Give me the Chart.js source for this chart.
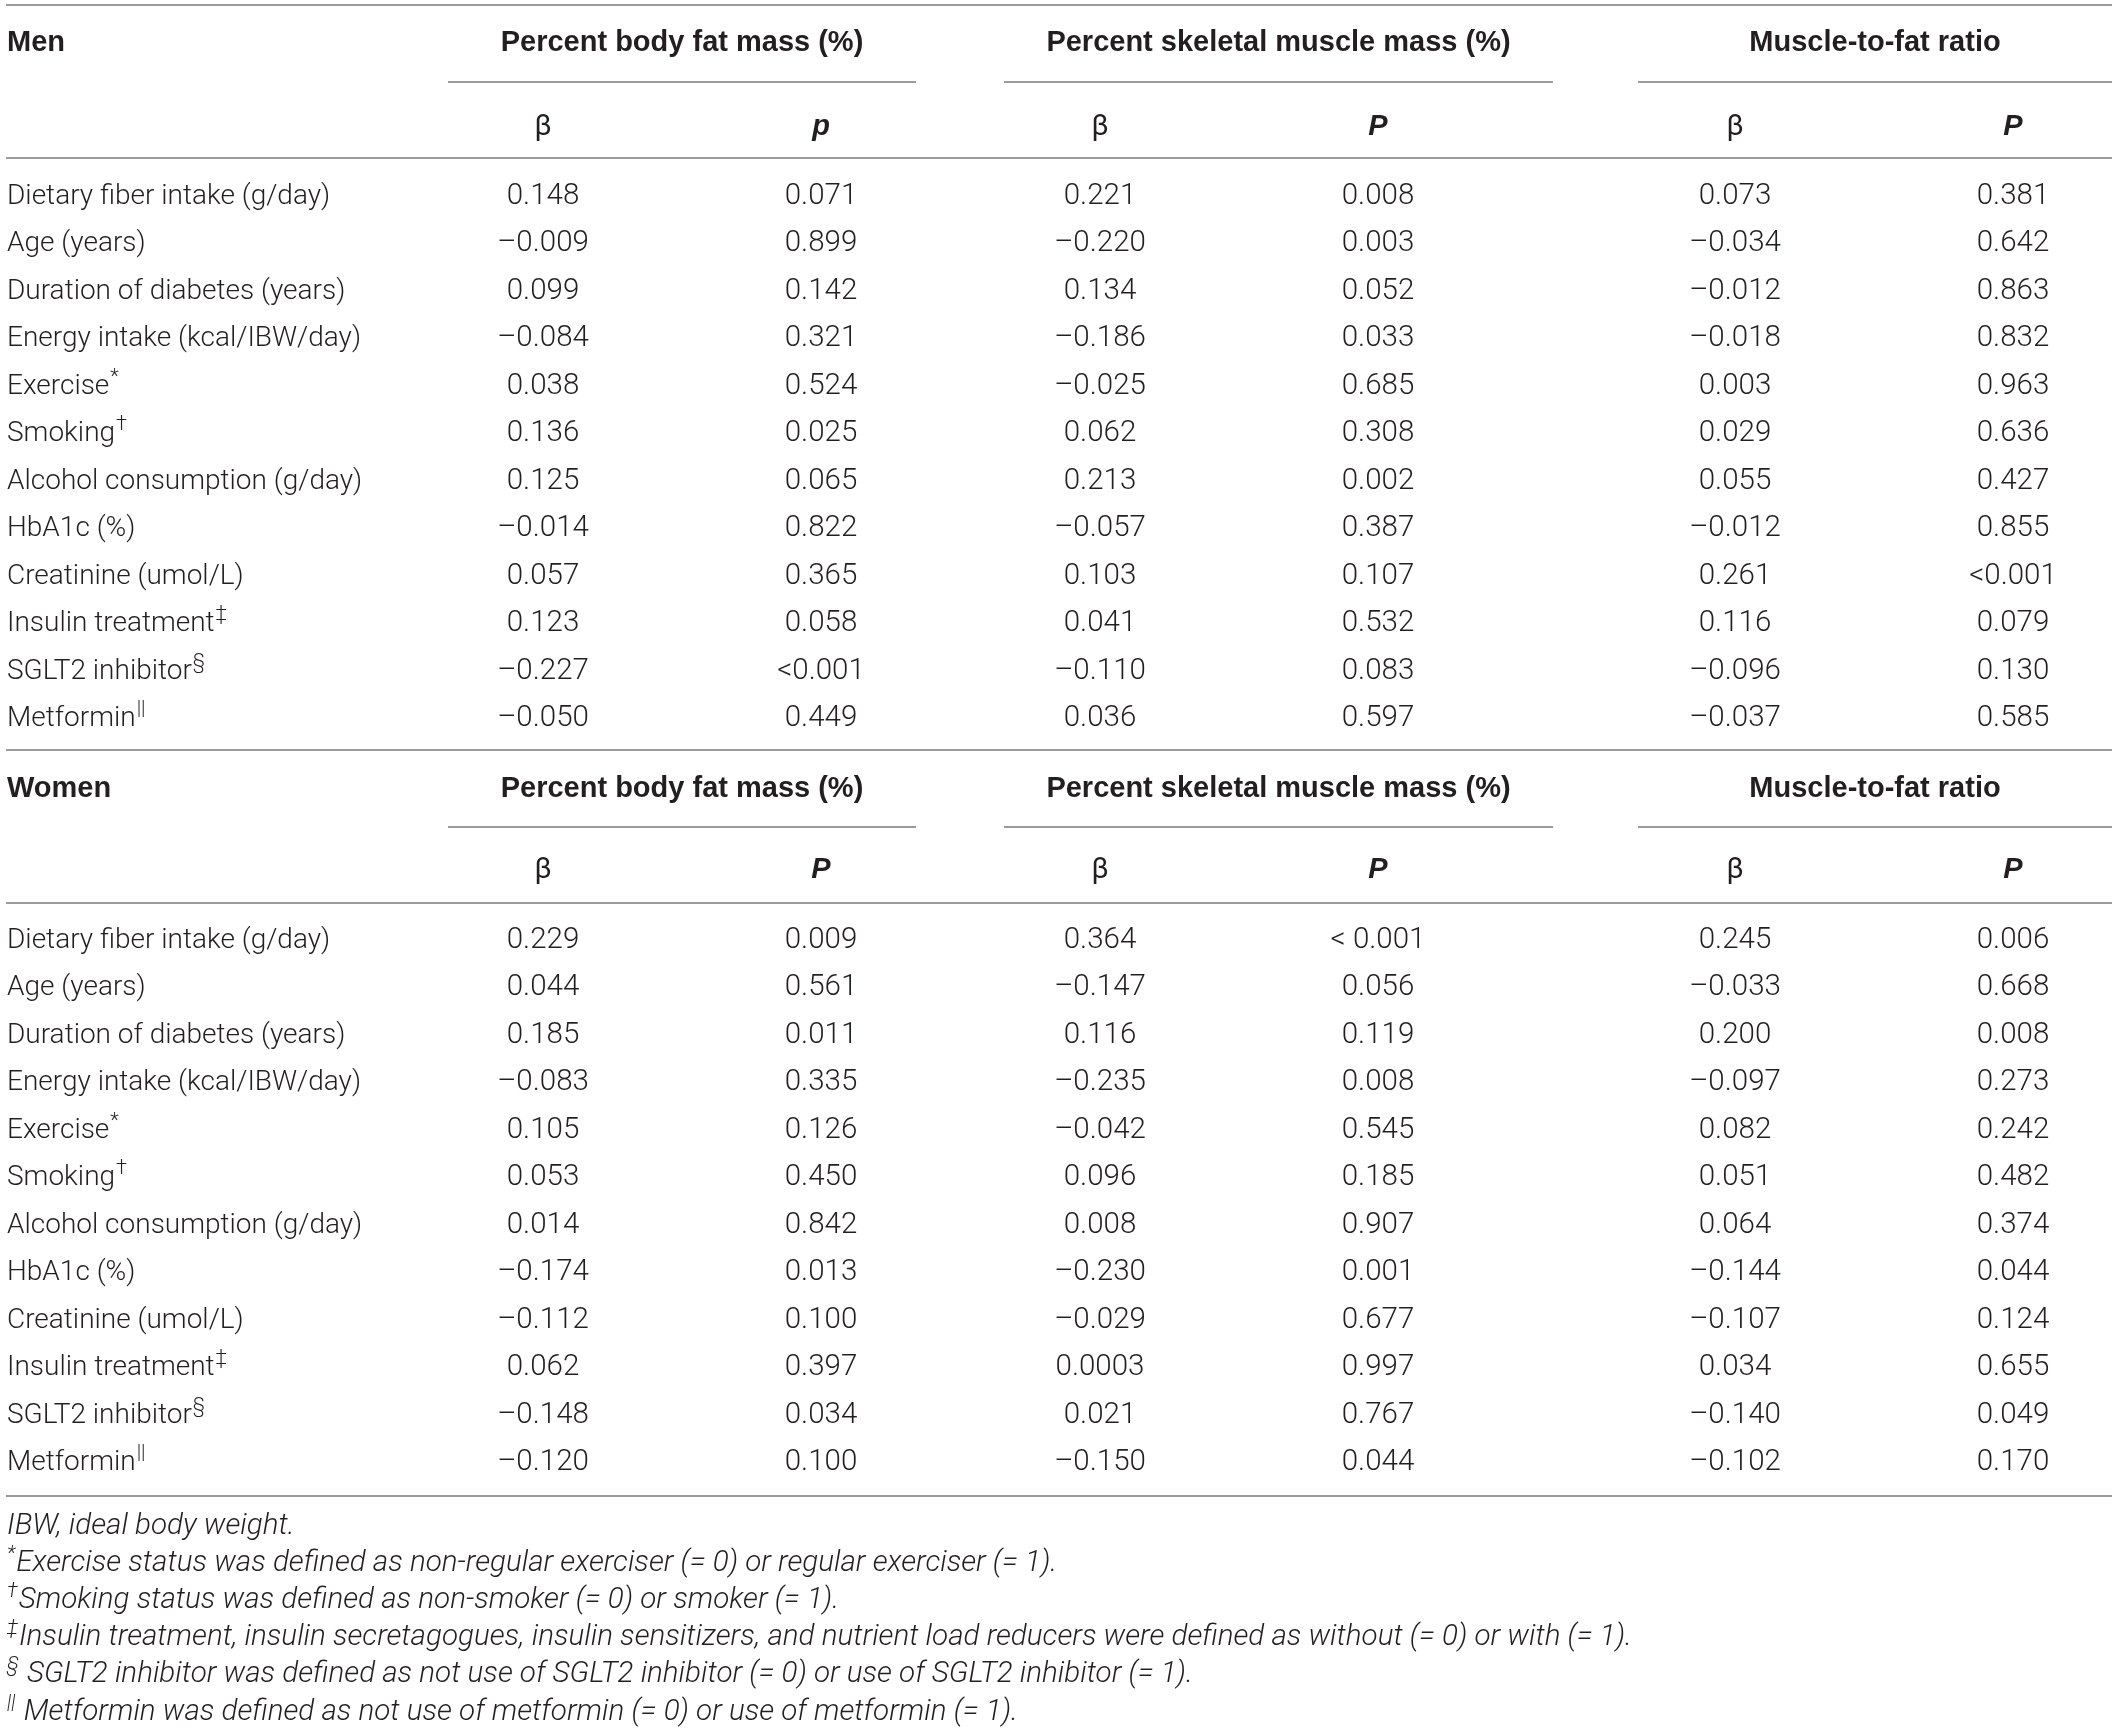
<!DOCTYPE html>
<html><head><meta charset="utf-8">
<script src="https://cdn.jsdelivr.net/npm/chart.js@4/dist/chart.umd.min.js"></script>
<style>html,body{margin:0;padding:0;background:#fff;overflow:hidden}canvas{display:block}</style>
</head><body>
<canvas id="c" width="2118" height="1730" style="width:2118px;height:1730px"></canvas>
<script>
// ---------------- DATA ----------------
const sectionNames = ["Men", "Women"];
const groupHeaders = ["Percent body fat mass (%)", "Percent skeletal muscle mass (%)", "Muscle-to-fat ratio"];
const subHeadersMen = ["β", "p", "β", "P", "β", "P"];
const subHeadersWomen = ["β", "P", "β", "P", "β", "P"];
const rowLabels = [
  "Dietary fiber intake (g/day)", "Age (years)", "Duration of diabetes (years)",
  "Energy intake (kcal/IBW/day)", "Exercise", "Smoking", "Alcohol consumption (g/day)",
  "HbA1c (%)", "Creatinine (umol/L)", "Insulin treatment", "SGLT2 inhibitor", "Metformin"
];
const rowMarks = ["", "", "", "", "*", "†", "", "", "", "‡", "§", "||"];

const menFatBeta   = ["0.148","–0.009","0.099","–0.084","0.038","0.136","0.125","–0.014","0.057","0.123","–0.227","–0.050"];
const menFatP      = ["0.071","0.899","0.142","0.321","0.524","0.025","0.065","0.822","0.365","0.058","<0.001","0.449"];
const menMuscleBeta= ["0.221","–0.220","0.134","–0.186","–0.025","0.062","0.213","–0.057","0.103","0.041","–0.110","0.036"];
const menMuscleP   = ["0.008","0.003","0.052","0.033","0.685","0.308","0.002","0.387","0.107","0.532","0.083","0.597"];
const menRatioBeta = ["0.073","–0.034","–0.012","–0.018","0.003","0.029","0.055","–0.012","0.261","0.116","–0.096","–0.037"];
const menRatioP    = ["0.381","0.642","0.863","0.832","0.963","0.636","0.427","0.855","<0.001","0.079","0.130","0.585"];

const womenFatBeta   = ["0.229","0.044","0.185","–0.083","0.105","0.053","0.014","–0.174","–0.112","0.062","–0.148","–0.120"];
const womenFatP      = ["0.009","0.561","0.011","0.335","0.126","0.450","0.842","0.013","0.100","0.397","0.034","0.100"];
const womenMuscleBeta= ["0.364","–0.147","0.116","–0.235","–0.042","0.096","0.008","–0.230","–0.029","0.0003","0.021","–0.150"];
const womenMuscleP   = ["< 0.001","0.056","0.119","0.008","0.545","0.185","0.907","0.001","0.677","0.997","0.767","0.044"];
const womenRatioBeta = ["0.245","–0.033","0.200","–0.097","0.082","0.051","0.064","–0.144","–0.107","0.034","–0.140","–0.102"];
const womenRatioP    = ["0.006","0.668","0.008","0.273","0.242","0.482","0.374","0.044","0.124","0.655","0.049","0.170"];

const footnoteMarks = ["", "*", "†", "‡", "§", "||"];
const footnotes = [
  "IBW, ideal body weight.",
  "Exercise status was defined as non-regular exerciser (= 0) or regular exerciser (= 1).",
  "Smoking status was defined as non-smoker (= 0) or smoker (= 1).",
  "Insulin treatment, insulin secretagogues, insulin sensitizers, and nutrient load reducers were defined as without (= 0) or with (= 1).",
  " SGLT2 inhibitor was defined as not use of SGLT2 inhibitor (= 0) or use of SGLT2 inhibitor (= 1).",
  " Metformin was defined as not use of metformin (= 0) or use of metformin (= 1)."
];

// ---------------- LAYOUT (scale units) ----------------
const layout = {
  width: 2118, height: 1730,
  labelX: 7,
  colX: [543, 821, 1100, 1378, 1735, 2013],
  groupSpan: [[448, 916], [1004, 1553], [1638, 2112]],
  fullSpan: [6, 2112],
  topLine: 5,
  sections: [
    { title: 41, groupLine: 82, sub: 125, subLine: 158, firstRow: 194, endLine: 750 },
    { title: 787, groupLine: 827, sub: 868, subLine: 903, firstRow: 938, endLine: 1496 }
  ],
  rowStep: 47.45,
  footFirst: 1524, footStep: 37.1
};
const style = {
  text: "#231f20", line: "#9b9b9b", lineWidth: 2,
  body: "300 28px Roboto", num: "300 29.5px Roboto",
  bold: "700 29px 'Liberation Sans'", sub: "italic 700 29px 'Liberation Sans'",
  beta: "400 29px Roboto", foot: "italic 300 29.6px Roboto",
  supBody: "300 20px Roboto", supFoot: "italic 300 20px Roboto", capHalf: 10, supRaise: 11
};

// ---------------- BUILD DATASETS ----------------
const sectionCols = [
  [menFatBeta, menFatP, menMuscleBeta, menMuscleP, menRatioBeta, menRatioP],
  [womenFatBeta, womenFatP, womenMuscleBeta, womenMuscleP, womenRatioBeta, womenRatioP]
];
const rowY = (s, i) => layout.sections[s].firstRow + i * layout.rowStep;
const datasets = [];
{
  const data = [], texts = [], marks = [];
  layout.sections.forEach((sec, s) => rowLabels.forEach((lab, i) => {
    data.push({ x: layout.labelX, y: rowY(s, i) }); texts.push(lab); marks.push(rowMarks[i]);
  }));
  datasets.push({ label: "Variables", data, texts, marks, align: "left", font: style.body, supFont: style.supBody, pointRadius: 0 });
}
for (let c = 0; c < 6; c++) {
  const data = [], texts = [];
  sectionCols.forEach((cols, s) => cols[c].forEach((v, i) => {
    data.push({ x: layout.colX[c], y: rowY(s, i) }); texts.push(v);
  }));
  datasets.push({ label: "col" + c, data, texts, align: "center", font: style.num, pointRadius: 0 });
}
{
  const data = [], texts = [], marks = [];
  footnotes.forEach((f, i) => {
    data.push({ x: layout.labelX, y: layout.footFirst + i * layout.footStep }); texts.push(f); marks.push(footnoteMarks[i]);
  });
  datasets.push({ label: "Footnotes", data, texts, marks, align: "left", font: style.foot, supFont: style.supFoot, prefixMarks: true, pointRadius: 0 });
}

// ---------------- PLUGIN ----------------
const tablePlugin = {
  id: "tablePlugin",
  afterDatasetsDraw(chart) {
    const ctx = chart.ctx, xs = chart.scales.x, ys = chart.scales.y;
    const X = v => xs.getPixelForValue(v), Y = v => ys.getPixelForValue(v);
    ctx.save();
    ctx.strokeStyle = style.line; ctx.lineWidth = style.lineWidth;
    const hline = (a, b, y) => { ctx.beginPath(); ctx.moveTo(X(a), Y(y)); ctx.lineTo(X(b), Y(y)); ctx.stroke(); };
    hline(layout.fullSpan[0], layout.fullSpan[1], layout.topLine);
    layout.sections.forEach(sec => {
      layout.groupSpan.forEach(g => hline(g[0], g[1], sec.groupLine));
      hline(layout.fullSpan[0], layout.fullSpan[1], sec.subLine);
      hline(layout.fullSpan[0], layout.fullSpan[1], sec.endLine);
    });
    ctx.fillStyle = style.text; ctx.textBaseline = "alphabetic";
    layout.sections.forEach((sec, s) => {
      ctx.font = style.bold; ctx.textAlign = "left";
      ctx.fillText(sectionNames[s], X(layout.labelX), Y(sec.title) + style.capHalf);
      ctx.textAlign = "center";
      groupHeaders.forEach((h, g) => {
        const span = layout.groupSpan[g];
        ctx.fillText(h, X((span[0] + span[1]) / 2), Y(sec.title) + style.capHalf);
      });
      const subs = s === 0 ? subHeadersMen : subHeadersWomen;
      subs.forEach((t, c) => {
        ctx.font = t === "β" ? style.beta : style.sub;
        ctx.fillText(t, X(layout.colX[c]), Y(sec.sub) + style.capHalf);
      });
    });
    chart.data.datasets.forEach((ds, di) => {
      const meta = chart.getDatasetMeta(di);
      meta.data.forEach((pt, i) => {
        const txt = ds.texts[i], mark = ds.marks ? ds.marks[i] : "";
        const base = pt.y + style.capHalf;
        ctx.font = ds.font;
        if (ds.align === "center") {
          ctx.textAlign = "center"; ctx.fillText(txt, pt.x, base);
        } else {
          ctx.textAlign = "left";
          let x = pt.x;
          if (ds.prefixMarks && mark) {
            ctx.font = ds.supFont; ctx.fillText(mark, x, base - style.supRaise);
            x += ctx.measureText(mark).width + 1; ctx.font = ds.font;
          }
          ctx.fillText(txt, x, base);
          if (!ds.prefixMarks && mark) {
            const w = ctx.measureText(txt).width;
            ctx.font = ds.supFont; ctx.fillText(mark, x + w + 1, base - style.supRaise);
          }
        }
      });
    });
    ctx.restore();
  }
};

new Chart(document.getElementById("c"), {
  type: "scatter",
  data: { datasets },
  options: {
    responsive: false, animation: false, devicePixelRatio: 1, events: [],
    layout: { padding: 0 },
    plugins: { legend: { display: false }, tooltip: { enabled: false } },
    scales: {
      x: { type: "linear", min: 0, max: layout.width, display: false },
      y: { type: "linear", min: 0, max: layout.height, reverse: true, display: false }
    }
  },
  plugins: [tablePlugin]
});
</script>
</body></html>
